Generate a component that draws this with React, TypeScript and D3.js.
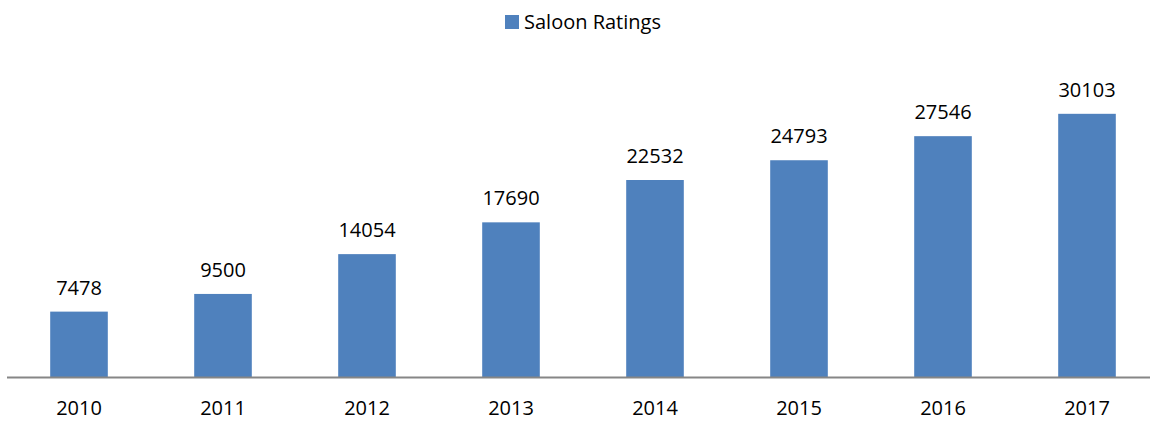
import React from 'react';
import * as d3 from 'd3';

const years = ['2010', '2011', '2012', '2013', '2014', '2015', '2016', '2017'];
const ratings = [7478, 9500, 14054, 17690, 22532, 24793, 27546, 30103];
const seriesName = 'Saloon Ratings';

const width = 1150;
const height = 421;
const font = '"Open Sans", sans-serif';

const App = () => {
  const x = d3.scaleBand<string>()
    .domain(years)
    .range([7, 7 + 144 * 8])
    .paddingInner(0.6)
    .paddingOuter(0.3);

  const y = d3.scaleLinear()
    .domain([0, 35000])
    .range([377, 71]);

  const data = years.map((yr, i) => ({ year: yr, value: ratings[i] }));

  return (
    <svg width={width} height={height} style={{ position: 'absolute', left: 0, top: 0 }}>
      {/* legend */}
      <rect x={505} y={15} width={14} height={14} fill="#4F81BD" />
      <text x={524} y={29} fontFamily={font} fontSize={20} fill="#000">{seriesName}</text>

      {/* bars */}
      {data.map(d => (
        <g key={d.year}>
          <rect
            x={x(d.year)}
            y={y(d.value)}
            width={x.bandwidth()}
            height={y(0) - y(d.value)}
            fill="#4F81BD"
          />
          <text
            x={(x(d.year) as number) + x.bandwidth() / 2}
            y={y(d.value) - 17}
            textAnchor="middle"
            fontFamily={font}
            fontSize={20}
            fill="#000"
          >
            {d.value}
          </text>
          <text
            x={(x(d.year) as number) + x.bandwidth() / 2}
            y={415}
            textAnchor="middle"
            fontFamily={font}
            fontSize={20}
            fill="#000"
          >
            {d.year}
          </text>
        </g>
      ))}

      {/* axis line */}
      <line x1={7} x2={width} y1={y(0) + 0.5} y2={y(0) + 0.5} stroke="#868686" strokeWidth={2} />
    </svg>
  );
};

export default App;
